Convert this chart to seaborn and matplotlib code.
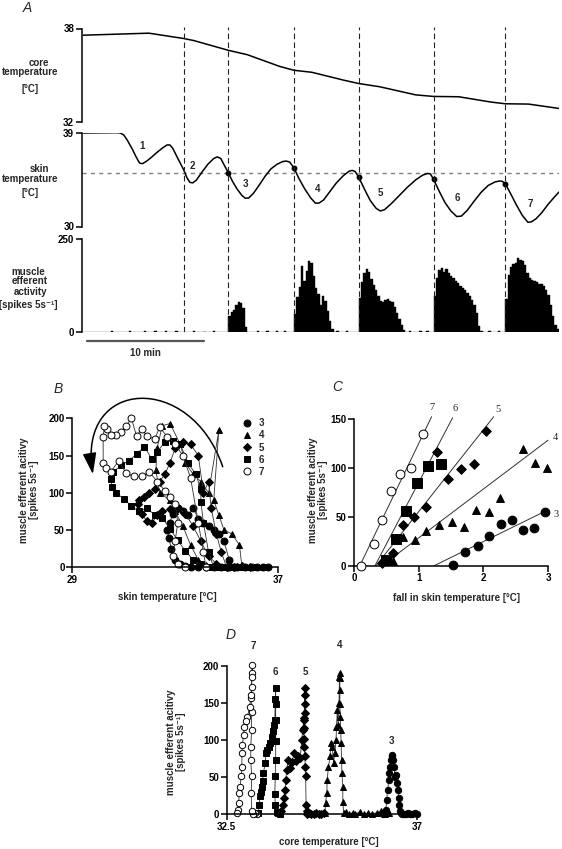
import numpy as np
import matplotlib
matplotlib.use("Agg")
import matplotlib.pyplot as plt
import seaborn as sns
from matplotlib.patches import FancyArrowPatch
from matplotlib.path import Path
from matplotlib.lines import Line2D

sns.set_style("ticks")
plt.rcParams["font.family"] = ["Liberation Sans", "DejaVu Sans"]
plt.rcParams["font.size"] = 7
plt.rcParams["font.weight"] = "bold"

# ---------------- data: panel A (time in min) ----------------
core_t = [0.12, 5.74, 8.71, 9.57, 12.55, 14.17, 16.93, 18.16, 19.7, 22.45, 23.71,
          25.52, 28.59, 30.12, 32.27, 35.03, 36.26, 38.25, 40.86]
core_T = [37.57, 37.70, 37.36, 37.23, 36.60, 36.32, 35.57, 35.32, 35.19, 34.68, 34.47,
          34.26, 33.74, 33.64, 33.62, 33.28, 33.17, 33.15, 32.87]

skin_t = [0.12, 3.0, 3.3, 3.6, 3.9, 4.3, 4.65, 4.95, 5.2, 5.5, 5.9, 6.4, 6.9, 7.3, 7.55,
          7.8, 8.2, 8.71, 9.0, 9.25, 9.5, 9.8, 10.3, 10.8, 11.3, 11.6, 11.9, 12.2, 12.55,
          12.9, 13.3, 13.7, 14.0, 14.3, 14.7, 15.2, 15.7, 16.2, 16.7, 17.2, 17.5, 17.8,
          18.16, 18.6, 19.1, 19.6, 20.0, 20.3, 20.7, 21.2, 21.8, 22.4, 22.9, 23.15, 23.4,
          23.71, 24.2, 24.7, 25.2, 25.55, 25.9, 26.5, 27.2, 27.9, 28.6, 29.2, 29.6, 29.85,
          30.12, 30.6, 31.1, 31.6, 32.1, 32.5, 33.0, 33.6, 34.2, 34.8, 35.4, 35.8, 36.0,
          36.26, 36.7, 37.2, 37.7, 38.2, 38.5, 38.9, 39.4, 39.9, 40.4, 40.86]
skin_T = [39.0, 39.03, 39.0, 38.8, 38.3, 37.5, 36.7, 36.1, 36.05, 36.25, 36.6, 37.1, 37.55,
          37.85, 37.85, 37.5, 36.6, 35.49, 34.7, 34.25, 34.2, 34.45, 35.25, 36.0, 36.55,
          36.7, 36.55, 35.9, 35.17, 34.35, 33.6, 33.0, 32.72, 32.75, 33.2, 34.0, 34.85,
          35.55, 35.98, 36.25, 36.3, 36.2, 35.65, 34.6, 33.6, 32.75, 32.25, 32.25, 32.55,
          33.3, 34.2, 34.9, 35.33, 35.4, 35.3, 34.75, 33.6, 32.5, 31.75, 31.5, 31.6, 32.2,
          33.0, 33.8, 34.5, 34.95, 35.1, 35.07, 34.53, 33.4, 32.3, 31.5, 30.96, 31.0, 31.55,
          32.45, 33.3, 33.95, 34.3, 34.38, 34.35, 34.12, 33.2, 32.1, 31.1, 30.4, 30.45,
          30.75, 31.35, 32.1, 32.75, 33.32]

skin_threshold = 35.17
dash_t = [8.71, 12.55, 18.16, 23.71, 30.12, 36.26]
dot_t = [12.55, 18.16, 23.71, 30.12, 36.26]
dot_T = [35.17, 35.65, 34.75, 34.53, 34.12]
cycle_labels = ["1", "2", "3", "4", "5", "6", "7"]
cycle_t = [5.12, 9.48, 14.02, 20.15, 25.58, 32.18, 38.4]
cycle_T = [37.72, 35.81, 34.12, 33.64, 33.26, 32.71, 32.2]

bin_w = 0.2
burst_start = [12.55, 18.16, 23.71, 30.12, 36.26]
burst_vals = [
    [42, 55, 60, 72, 80, 77, 64, 14],
    [48, 95, 122, 178, 136, 165, 192, 186, 150, 118, 102, 72, 98, 84, 56, 30, 8],
    [92, 134, 158, 170, 160, 142, 126, 112, 96, 84, 80, 86, 88, 84, 80, 66, 52, 36, 18, 5],
    [98, 146, 168, 172, 160, 170, 158, 150, 146, 136, 132, 124, 118, 112, 104, 98, 86, 72,
     52, 16, 4],
    [88, 152, 174, 182, 186, 200, 194, 190, 180, 158, 146, 140, 136, 134, 130, 128, 124,
     114, 100, 72, 42, 20, 8],
]
blip_t = [2.5, 4.0, 5.3, 6.2, 7.1, 8.0, 9.5, 10.4, 11.2, 15.0, 15.8, 16.6, 17.3, 21.8,
          22.6, 28.0, 28.9, 29.5, 34.8, 35.6]
blip_v = [2, 3, 2, 3, 2, 2, 2, 1, 3, 2, 3, 2, 4, 2, 2, 2, 3, 2, 2, 3]

# ---------------- data: panel B (skin temp vs activity) ----------------
b_skin = {
    "3": [35.3, 35.1, 34.9, 34.7, 34.5, 34.3, 34.1, 33.9, 33.7, 33.5, 33.3, 33.1, 32.9, 32.8,
          32.7, 32.75, 32.85, 33.0, 33.2, 33.4, 33.6, 33.9, 34.2, 34.5, 34.8, 35.1, 35.4,
          35.7, 36.0, 36.2, 36.4, 36.6],
    "4": [35.6, 35.5, 35.2, 34.9, 34.7, 34.5, 34.7, 34.3, 34.0, 33.7, 33.4, 33.2, 32.8, 32.5,
          32.3, 32.25, 32.4, 32.8, 33.0, 33.3, 33.6, 33.9, 34.2, 34.6, 35.0, 35.4, 35.8, 36.1,
          36.4],
    "5": [35.0, 34.8, 34.6, 34.4, 34.3, 34.1, 33.9, 33.6, 33.3, 33.0, 32.8, 32.6, 32.4, 32.2,
          32.0, 31.8, 31.6, 31.55, 31.7, 31.9, 32.1, 32.3, 32.5, 32.8, 33.1, 33.4, 33.7, 34.0,
          34.3, 34.6, 35.0, 35.3, 35.6, 35.9],
    "6": [34.5, 34.3, 34.1, 34.0, 34.0, 33.8, 33.5, 33.2, 32.9, 32.6, 32.3, 32.1, 31.8, 31.5,
          31.2, 30.9, 30.6, 30.5, 30.55, 30.7, 31.0, 31.3, 31.6, 31.9, 32.2, 32.5, 32.8, 33.1,
          33.4, 33.7, 34.0, 34.3, 34.6, 34.9],
    "7": [34.2, 34.1, 33.9, 33.6, 33.3, 33.0, 32.7, 32.4, 32.2, 31.9, 31.7, 31.5, 31.3, 31.1,
          30.9, 30.7, 30.5, 30.35, 30.25, 30.2, 30.2, 30.3, 30.5, 30.8, 31.1, 31.4, 31.7,
          32.0, 32.3, 32.6, 32.8, 33.0, 33.1, 33.0, 32.9, 33.1, 33.4],
}
b_act = {
    "3": [0, 10, 35, 45, 50, 55, 60, 65, 80, 70, 75, 80, 72, 60, 50, 40, 25, 10, 4, 2, 1, 0,
          1, 0, 0, 1, 0, 0, 1, 0, 1, 0],
    "4": [0, 30, 45, 50, 70, 90, 184, 100, 115, 125, 140, 165, 193, 190, 160, 130, 100, 90,
          75, 55, 30, 10, 3, 1, 0, 2, 0, 1, 0],
    "5": [0, 20, 45, 80, 115, 100, 150, 165, 168, 160, 140, 125, 115, 105, 100, 95, 90, 85,
          72, 62, 60, 70, 75, 78, 80, 72, 55, 35, 15, 5, 1, 0, 2, 0],
    "6": [0, 20, 60, 88, 105, 125, 140, 165, 170, 168, 155, 145, 162, 152, 143, 137, 128,
          118, 108, 100, 92, 82, 75, 80, 70, 66, 52, 36, 22, 10, 4, 1, 0, 1],
    "7": [0, 20, 60, 120, 150, 165, 175, 188, 172, 176, 186, 176, 200, 190, 182, 178, 178,
          185, 190, 175, 140, 133, 128, 143, 126, 122, 122, 128, 115, 103, 95, 85, 60, 35,
          15, 5, 0],
}

# ---------------- data: panel C (fall in skin temp vs activity) ----------------
c_fall = {
    "7": [0.11, 0.31, 0.43, 0.57, 0.71, 0.88, 1.06],
    "6": [0.49, 0.65, 0.80, 0.97, 1.15, 1.34],
    "5": [0.43, 0.60, 0.76, 0.93, 1.11, 1.29, 1.46, 1.65, 1.85, 2.04],
    "4": [0.60, 0.76, 0.95, 1.12, 1.32, 1.51, 1.70, 1.89, 2.08, 2.26, 2.62, 2.80, 2.98],
    "3": [1.53, 1.72, 1.91, 2.09, 2.28, 2.45, 2.61, 2.78, 2.95],
}
c_act = {
    "7": [0, 22, 47, 76, 94, 100, 134],
    "6": [6, 27, 56, 84, 102, 104],
    "5": [3, 13, 42, 50, 60, 116, 88, 99, 104, 137],
    "4": [5, 29, 26, 35, 42, 45, 39, 57, 55, 69, 119, 105, 100],
    "3": [1, 14, 20, 30, 43, 47, 36, 38, 55],
}
c_line_x = {"7": [0.09, 1.20], "6": [0.325, 1.525], "5": [0.34, 2.16],
            "4": [0.43, 3.0], "3": [1.24, 2.97]}
c_line_y = {"7": [0, 152], "6": [0, 151], "5": [0, 152], "4": [0, 128], "3": [0, 56]}
c_lab_x = {"7": 1.2, "6": 1.57, "5": 2.22, "4": 3.12, "3": 3.13}
c_lab_y = {"7": 161, "6": 160, "5": 159, "4": 131, "3": 52}

# ---------------- data: panel D (core temp vs activity) ----------------
d_core = {
    "3": [37.0, 36.95, 36.9, 36.85, 36.8, 36.75, 36.7, 36.65, 36.62, 36.6, 36.59, 36.58,
          36.56, 36.54, 36.51, 36.49, 36.46, 36.44, 36.42, 36.41, 36.38, 36.37, 36.35, 36.34,
          36.31, 36.29, 36.27, 36.24, 36.2],
    "4": [36.35, 36.25, 36.15, 36.05, 35.95, 35.85, 35.75, 35.65, 35.55, 35.48, 35.4, 35.33,
          35.27, 35.25, 35.25, 35.23, 35.22, 35.21, 35.2, 35.19, 35.18, 35.18, 35.18, 35.18,
          35.17, 35.16, 35.14, 35.12, 35.1, 35.09, 35.06, 35.03, 35.0, 34.96, 34.95, 34.91,
          34.88, 34.87, 34.84, 34.83],
    "5": [34.8, 34.74, 34.68, 34.62, 34.56, 34.5, 34.45, 34.41, 34.39, 34.38, 34.37, 34.36,
          34.35, 34.34, 34.33, 34.33, 34.34, 34.35, 34.35, 34.36, 34.36, 34.33, 34.3, 34.28,
          34.24, 34.2, 34.14, 34.1, 34.04, 34.0, 33.96, 33.92, 33.9, 33.88, 33.86, 33.83,
          33.79],
    "6": [33.77, 33.72, 33.68, 33.65, 33.64, 33.65, 33.66, 33.66, 33.66, 33.66, 33.66, 33.65,
          33.64, 33.62, 33.6, 33.57, 33.53, 33.49, 33.46, 33.43, 33.41, 33.37, 33.35, 33.33,
          33.31, 33.29, 33.27, 33.25],
    "7": [33.22, 33.17, 33.13, 33.09, 33.08, 33.09, 33.07, 33.07, 33.09, 33.09, 33.08, 33.09,
          33.1, 33.11, 33.09, 33.08, 33.04, 32.99, 32.95, 32.92, 32.9, 32.87, 32.86, 32.86,
          32.84, 32.82, 32.8, 32.78, 32.76, 32.75],
}
d_act = {
    "3": [1, 2, 0, 1, 2, 0, 1, 0, 2, 4, 13, 22, 33, 42, 53, 50, 64, 73, 80, 78, 73, 64, 55,
          46, 33, 19, 6, 2, 0],
    "4": [2, 1, 4, 2, 1, 2, 0, 3, 1, 2, 1, 3, 2, 17, 37, 55, 73, 96, 113, 131, 149, 167, 183,
          190, 185, 150, 120, 140, 118, 100, 82, 69, 91, 96, 78, 64, 46, 28, 15, 2],
    "5": [2, 0, 1, 2, 0, 1, 2, 1, 4, 13, 51, 64, 78, 91, 102, 116, 127, 136, 149, 161, 170,
          130, 113, 100, 76, 78, 72, 82, 70, 62, 73, 60, 46, 33, 22, 13, 4],
    "6": [1, 2, 3, 13, 27, 51, 73, 98, 127, 149, 170, 155, 127, 120, 112, 104, 96, 91, 86, 82,
          69, 55, 45, 37, 30, 24, 13, 2],
    "7": [1, 2, 1, 4, 28, 51, 73, 91, 113, 138, 156, 172, 190, 201, 185, 160, 144, 131, 125,
          118, 107, 93, 82, 64, 51, 37, 28, 15, 6, 2],
}
d_lab_x = {"7": 33.13, "6": 33.66, "5": 34.37, "4": 35.17, "3": 36.41}
d_lab_y = {"7": 226, "6": 191, "5": 191, "4": 228, "3": 98}

episodes = ["3", "4", "5", "6", "7"]
marker_of = {"3": "o", "4": "^", "5": "D", "6": "s", "7": "o"}
face_of = {"3": "black", "4": "black", "5": "black", "6": "black", "7": "white"}

# ---------------- layout helpers (pixel boxes) ----------------
W, H = 562, 849


def box(x0, y0, x1, y1):
    return [x0 / W, 1 - y1 / H, (x1 - x0) / W, (y1 - y0) / H]


def pt(x, y):
    return x / W, 1 - y / H


def style(ax, left_only=False):
    for s in ["top", "right"]:
        ax.spines[s].set_visible(False)
    for s in ["left", "bottom"]:
        ax.spines[s].set_linewidth(1.1)
        ax.spines[s].set_color("black")
    if left_only:
        ax.spines["bottom"].set_visible(False)
        ax.set_xticks([])
    ax.tick_params(direction="out", length=4, width=1.1, colors="black",
                   labelsize=7, pad=1.5)
    ax.set_facecolor("none")
    ax.set_xlabel("")
    ax.set_ylabel("")


fig = plt.figure(figsize=(5.62, 8.49), dpi=100)
x_end = 40.86

# ---- A: core temperature
ax_c = fig.add_axes(box(81.8, 28.5, 559, 122))
sns.lineplot(x=core_t, y=core_T, ax=ax_c, color="black", lw=1.1)
ax_c.set_xlim(0, x_end)
ax_c.set_ylim(32, 38)
ax_c.set_yticks([32, 38])
style(ax_c, left_only=True)

# ---- A: skin temperature
ax_s = fig.add_axes(box(81.8, 133, 559, 226.5))
ax_s.axhline(skin_threshold, color="#808080", lw=1.0, ls=(0, (3, 3)))
sns.lineplot(x=skin_t, y=skin_T, ax=ax_s, color="black", lw=1.1)
ax_s.plot(dot_t, dot_T, "o", color="black", ms=3.2, zorder=5)
for lab, tx, ty in zip(cycle_labels, cycle_t, cycle_T):
    ax_s.text(tx, ty, lab, ha="center", va="center", fontsize=7)
ax_s.set_xlim(0, x_end)
ax_s.set_ylim(30, 39)
ax_s.set_yticks([30, 39])
style(ax_s, left_only=True)

# ---- A: muscle efferent activity
ax_m = fig.add_axes(box(81.8, 239, 559, 332))
for start, vals in zip(burst_start, burst_vals):
    bt = start + bin_w * np.arange(len(vals))
    ax_m.bar(bt, vals, width=bin_w, align="edge", color="black",
             edgecolor="black", linewidth=0.3)
ax_m.bar(blip_t, blip_v, width=bin_w, align="edge", color="black", linewidth=0.3,
         edgecolor="black")
ax_m.axhline(0, color="black", lw=0.9)
ax_m.set_xlim(0, x_end)
ax_m.set_ylim(0, 250)
ax_m.set_yticks([0, 250])
style(ax_m, left_only=True)
# 10 min scale bar
trans = matplotlib.transforms.blended_transform_factory(ax_m.transData, ax_m.transAxes)
ax_m.plot([0.43, 10.43], [-0.097, -0.097], transform=trans, color="#555555",
          lw=1.6, clip_on=False)
ax_m.text(5.43, -0.229, "10 min", transform=trans, ha="center", va="center", fontsize=7)

# dashed verticals across panel A
ax_d = fig.add_axes(box(81.8, 27, 559, 332))
ax_d.set_xlim(0, x_end)
ax_d.set_ylim(0, 1)
ax_d.vlines(dash_t, 0, 1, colors="#222222", lw=0.8, linestyles=(0, (5, 3)))
ax_d.axis("off")

for txt, x, y in [("core", 39, 63.3), ("temperature", 30.5, 72.3), ("[°C]", 30, 89.3),
                  ("skin", 39.8, 169), ("temperature", 30.5, 179), ("[°C]", 30.5, 192.7),
                  ("muscle", 28.7, 272), ("efferent", 29.2, 281.5), ("activity", 30, 292),
                  ("[spikes 5s⁻¹]", 28.7, 305)]:
    fig.text(*pt(x, y), txt, ha="center", va="center", fontsize=7)

# ---- B
ax_b = fig.add_axes(box(72.3, 418.3, 278, 567.3))
for ep in episodes:
    sns.lineplot(x=b_skin[ep], y=b_act[ep], ax=ax_b, sort=False, estimator=None,
                 color="#303030", lw=0.6, marker=marker_of[ep],
                 markersize=5 if marker_of[ep] != "D" else 4.2,
                 markerfacecolor=face_of[ep], markeredgecolor="black",
                 markeredgewidth=0.7, clip_on=False)
ax_b.set_xlim(29, 37)
ax_b.set_ylim(0, 200)
ax_b.set_xticks([29, 37])
ax_b.set_yticks([0, 50, 100, 150, 200])
style(ax_b)
arc = Path([(34.85, 135), (33.6, 262), (29.2, 255), (29.8, 125)],
           [Path.MOVETO, Path.CURVE4, Path.CURVE4, Path.CURVE4])
ax_b.add_patch(FancyArrowPatch(path=arc, arrowstyle="-|>,head_length=1.3,head_width=0.42",
                               mutation_scale=10, lw=1.1, color="black", clip_on=False))
handles = [Line2D([], [], ls="none", marker=marker_of[ep],
                  ms=5 if marker_of[ep] != "D" else 4.2,
                  mfc=face_of[ep], mec="black", mew=0.7) for ep in episodes]
ax_b.legend(handles, episodes, loc="upper left", bbox_to_anchor=(0.83, 1.0),
            frameon=False, handlelength=0.8, handletextpad=0.8, labelspacing=0.22,
            borderpad=0, borderaxespad=0, fontsize=7)

# ---- C
ax_cc = fig.add_axes(box(354, 418.7, 548, 565.7))
for ep in episodes:
    sns.lineplot(x=c_line_x[ep], y=c_line_y[ep], ax=ax_cc, color="#303030", lw=0.7,
                 estimator=None, sort=False, clip_on=False)
    mk = marker_of[ep]
    size = {"o": 40, "^": 32, "D": 24, "s": 52}[mk]
    sns.scatterplot(x=c_fall[ep], y=c_act[ep], ax=ax_cc, marker=mk, s=size,
                    color=face_of[ep], edgecolor="black", linewidth=0.7,
                    clip_on=False, zorder=4)
    ax_cc.text(c_lab_x[ep], c_lab_y[ep], ep, ha="center", va="center",
               fontsize=7.5, fontweight="normal", family="Liberation Serif",
               clip_on=False)
ax_cc.set_xlim(0, 3)
ax_cc.set_ylim(0, 150)
ax_cc.set_xticks([0, 1, 2, 3])
ax_cc.set_yticks([0, 50, 100, 150])
style(ax_cc)

# ---- D
ax_dd = fig.add_axes(box(226.7, 665.7, 416.7, 814.3))
for ep in episodes:
    sns.lineplot(x=d_core[ep], y=d_act[ep], ax=ax_dd, sort=False, estimator=None,
                 color="#303030", lw=0.6, marker=marker_of[ep],
                 markersize=4.6 if marker_of[ep] != "D" else 3.8,
                 markerfacecolor=face_of[ep], markeredgecolor="black",
                 markeredgewidth=0.7, clip_on=False)
    ax_dd.text(d_lab_x[ep], d_lab_y[ep], ep, ha="center", va="center", fontsize=7)
ax_dd.set_xlim(32.5, 37)
ax_dd.set_ylim(0, 200)
ax_dd.set_xticks([32.5, 37])
ax_dd.set_xticklabels(["32.5", "37"])
ax_dd.set_yticks([0, 50, 100, 150, 200])
style(ax_dd)

# axis labels and panel letters
fig.text(*pt(167, 597), "skin temperature [°C]", ha="center", va="center")
fig.text(*pt(456, 597.7), "fall in skin temperature [°C]", ha="center", va="center")
fig.text(*pt(328.7, 842), "core temperature [°C]", ha="center", va="center")
ylab = "muscle efferent acitivy\n[spikes 5s⁻¹]"
fig.text(*pt(29, 490), ylab, ha="center", va="center", rotation=90, linespacing=1.1)
fig.text(*pt(318, 490), ylab, ha="center", va="center", rotation=90, linespacing=1.1)
fig.text(*pt(176, 742), ylab, ha="center", va="center", rotation=90, linespacing=1.1)
for letter, x, y in [("A", 27, 8), ("B", 58, 389), ("C", 337, 387), ("D", 231, 635)]:
    fig.text(*pt(x, y), letter, ha="center", va="center", fontsize=10,
             style="italic", fontweight="normal")

fig.savefig("out.png", dpi=100)
